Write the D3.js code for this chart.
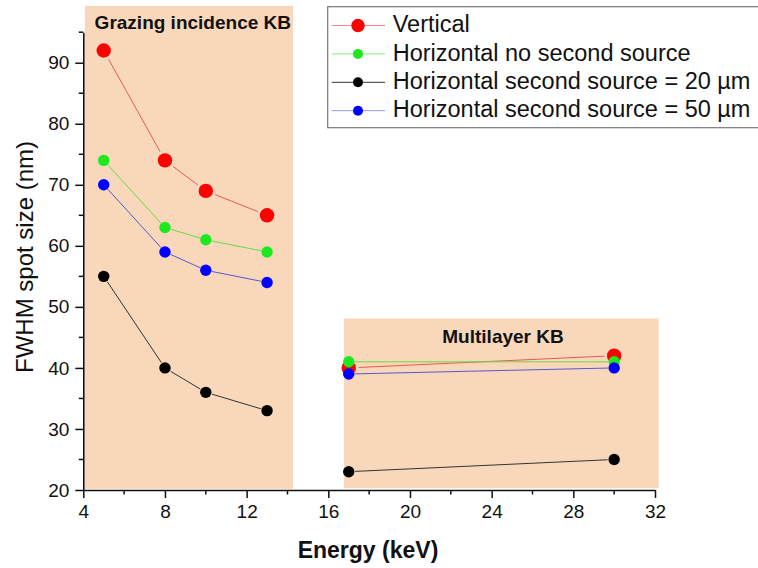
<!DOCTYPE html>
<html><head><meta charset="utf-8">
<script src="https://cdn.jsdelivr.net/npm/d3@7"></script>
<style>
html,body{margin:0;padding:0;background:#fff;}
svg{display:block;font-family:"Liberation Sans",Arial,sans-serif;}
</style></head>
<body><svg id="chart" width="758" height="568"></svg>
<script>
// ---- data ----
const energies = [5, 8, 10, 13, 17, 30];
const opticsGroup = [0, 0, 0, 0, 1, 1]; // 0 = grazing incidence KB, 1 = multilayer KB
const seriesNames = ["Vertical", "Horizontal no second source", "Horizontal second source = 20 µm", "Horizontal second source = 50 µm"];
const vertical = [92, 74, 69, 65, 40, 42];
const horizNoSecond = [74, 63, 61, 59, 41, 41];
const horiz20 = [55, 40, 36, 33, 23, 25];
const horiz50 = [70, 59, 56, 54, 39, 40];
const xTicks = [4, 8, 12, 16, 20, 24, 28, 32];
const yTicks = [20, 30, 40, 50, 60, 70, 80, 90];
const regionNames = ["Grazing incidence KB", "Multilayer KB"];
const regionX = [[4.08, 14.27], [16.77, 32.18]];
const regionY = [[20.2, 99.3], [20.3, 48.1]];

// ---- styles ----
const markerColors = ["#ff0000", "#1ee81e", "#000000", "#0000ff"];
const lineColors = ["#e85a50", "#66dd44", "#333333", "#5858cc"];
const radii = [7.2, 5.7, 5.7, 5.7];
const gaps = [10, 6, 6.5, 6];
const legendRadii = [6.7, 5, 5, 5];
const legendLineColors = ["#f08a8a", "#88e888", "#333333", "#9a9ae0"];
const allSeries = [vertical, horizNoSecond, horiz20, horiz50];

const svg = d3.select("#chart");
const x = d3.scaleLinear().domain([4, 32]).range([83.3, 655]);
const y = d3.scaleLinear().domain([20, 95]).range([490, 32.2]);

// shaded regions
regionNames.forEach((n, i) => {
  svg.append("rect")
    .attr("x", x(regionX[i][0])).attr("y", y(regionY[i][1]))
    .attr("width", x(regionX[i][1]) - x(regionX[i][0]))
    .attr("height", y(regionY[i][0]) - y(regionY[i][1]))
    .attr("fill", "#f9d7bb");
});
svg.append("text").attr("x", 192.8).attr("y", 29).attr("text-anchor", "middle")
  .attr("font-size", 19).attr("font-weight", "bold").attr("fill", "#111").text(regionNames[0]);
svg.append("text").attr("x", 503).attr("y", 343).attr("text-anchor", "middle")
  .attr("font-size", 19).attr("font-weight", "bold").attr("fill", "#111").text(regionNames[1]);

// axes
const axStroke = "#111";
const xAxis = d3.axisBottom(x).tickValues(xTicks).tickSize(8).tickPadding(6).tickSizeOuter(0);
const gx = svg.append("g").attr("transform", "translate(0,490)").call(xAxis);
const yAxis = d3.axisLeft(y).tickValues(yTicks).tickSize(8).tickPadding(6).tickSizeOuter(0);
const gy = svg.append("g").attr("transform", "translate(83.3,0)").call(yAxis);
[gx, gy].forEach(g => {
  g.select(".domain").attr("stroke", axStroke).attr("stroke-width", 1.6);
  g.selectAll(".tick line").attr("stroke", axStroke).attr("stroke-width", 1.5);
  g.selectAll(".tick text").attr("font-size", 19).attr("fill", "#111")
    .attr("font-family", "Liberation Sans, Arial, sans-serif");
});
gx.selectAll(".tick text").attr("dy", "0.75em");
// minor ticks
const xMinor = d3.range(6, 32, 4);
const yMinor = d3.range(25, 96, 10);
gx.selectAll(".minor").data(xMinor).enter().append("line")
  .attr("x1", d => x(d)).attr("x2", d => x(d)).attr("y1", 0).attr("y2", 4.5)
  .attr("stroke", axStroke).attr("stroke-width", 1.5);
gy.selectAll(".minor").data(yMinor).enter().append("line")
  .attr("y1", d => y(d)).attr("y2", d => y(d)).attr("x1", 0).attr("x2", -4.5)
  .attr("stroke", axStroke).attr("stroke-width", 1.5);

// axis titles
svg.append("text").attr("x", 368).attr("y", 558).attr("text-anchor", "middle")
  .attr("font-size", 23).attr("font-weight", "bold").attr("fill", "#111").text("Energy (keV)");
svg.append("text").attr("transform", "translate(33,257) rotate(-90)").attr("text-anchor", "middle")
  .attr("font-size", 24).attr("fill", "#111").text("FWHM spot size (nm)");

// lines with gaps (only within the same optics group)
allSeries.forEach((vals, si) => {
  const pts = energies.map((e, i) => [x(e), y(vals[i])]);
  for (let i = 0; i < pts.length - 1; i++) {
    if (opticsGroup[i] !== opticsGroup[i + 1]) continue;
    const [x1, y1] = pts[i], [x2, y2] = pts[i + 1];
    const dx = x2 - x1, dy = y2 - y1, L = Math.hypot(dx, dy);
    const g = gaps[si];
    if (L <= 2 * g) continue;
    const ux = dx / L, uy = dy / L;
    svg.append("line")
      .attr("x1", x1 + ux * g).attr("y1", y1 + uy * g)
      .attr("x2", x2 - ux * g).attr("y2", y2 - uy * g)
      .attr("stroke", lineColors[si]).attr("stroke-width", 1);
  }
});
// markers
allSeries.forEach((vals, si) => {
  svg.append("g").selectAll("circle").data(energies).enter().append("circle")
    .attr("cx", d => x(d)).attr("cy", (d, i) => y(vals[i]))
    .attr("r", radii[si]).attr("fill", markerColors[si]);
});

// legend
svg.append("rect").attr("x", 327.7).attr("y", 6.7).attr("width", 440).attr("height", 121)
  .attr("fill", "#fff").attr("stroke", "#777").attr("stroke-width", 1.2);
seriesNames.forEach((n, i) => {
  const cy = 25.5 + i * 28.4;
  svg.append("line").attr("x1", 331.7).attr("x2", 385).attr("y1", cy).attr("y2", cy)
    .attr("stroke", legendLineColors[i]).attr("stroke-width", 1);
  svg.append("circle").attr("cx", 358).attr("cy", cy).attr("r", legendRadii[i]).attr("fill", markerColors[i]);
  svg.append("text").attr("x", 392.7).attr("y", 32.2 + i * 28.4).attr("font-size", 23.5)
    .attr("fill", "#111").text(n);
});
</script></body></html>
